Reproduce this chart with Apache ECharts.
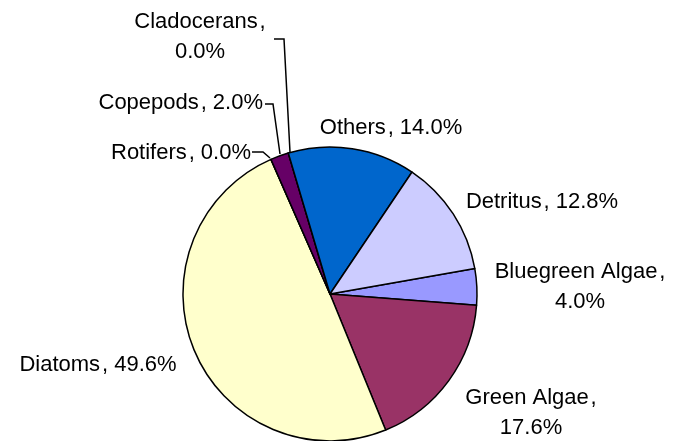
<!DOCTYPE html>
<html>
<head>
<meta charset="utf-8">
<script src="https://cdn.jsdelivr.net/npm/echarts@6/dist/echarts.min.js"></script>
<style>
  html, body { margin: 0; padding: 0; background: #fff; }
  #chart { width: 675px; height: 441px; }
</style>
</head>
<body>
<div id="chart"></div>
<script>
// slice order follows the spreadsheet series order
const categories = ["Bluegreen Algae", "Green Algae", "Diatoms", "Rotifers", "Copepods", "Cladocerans", "Others", "Detritus"];
const shares = [4.0, 17.6, 49.6, 0.0, 2.0, 0.0, 14.0, 12.8];
const colors = ["#9999ff", "#993366", "#ffffcc", "#ccffff", "#660066", "#ff8080", "#0066cc", "#ccccff"];

// names whose label breaks after the comma
const wrapped = ["Bluegreen Algae", "Green Algae", "Cladocerans"];

// label placement (text anchor, alignment, leader line)
const labelPlace = {
  "Bluegreen Algae": { x: 580, y: 287, align: "center" },
  "Green Algae": { x: 531, y: 413, align: "center" },
  "Diatoms": { x: 98, y: 365, align: "center" },
  "Rotifers": { x: 251, y: 153, align: "right", line: [[270, 158], [263, 152], [252, 152]] },
  "Copepods": { x: 263, y: 103, align: "right", line: [[280, 154], [273, 104], [265, 104]] },
  "Cladocerans": { x: 200, y: 37, align: "center", line: [[290, 152], [284, 39], [274, 39]] },
  "Others": { x: 391, y: 128, align: "center" },
  "Detritus": { x: 542, y: 202, align: "center" }
};

const chart = echarts.init(document.getElementById("chart"));

chart.setOption({
  animation: false,
  series: [{
    type: "pie",
    center: [330, 294],
    radius: 147,
    startAngle: 10,
    clockwise: true,
    avoidLabelOverlap: false,
    itemStyle: { borderColor: "#000", borderWidth: 1.5 },
    label: {
      show: true,
      position: "outside",
      color: "#000",
      fontFamily: "Liberation Sans, Arial, sans-serif",
      fontSize: 22,
      lineHeight: 30,
      formatter: function (p) {
        const sep = wrapped.indexOf(p.name) >= 0 ? "\u200a,\n" : "\u200a, ";
        return p.name + sep + p.value.toFixed(1) + "%";
      }
    },
    labelLine: { show: false, lineStyle: { color: "#000", width: 1.5 } },
    labelLayout: function (params) {
      const name = categories[params.dataIndex];
      const pl = labelPlace[name];
      const out = { x: pl.x, y: pl.y, align: pl.align, verticalAlign: "middle" };
      if (pl.line) out.labelLinePoints = pl.line;
      return out;
    },
    emphasis: { disabled: true },
    data: categories.map(function (c, i) {
      const item = { name: c, value: shares[i], itemStyle: { color: colors[i] } };
      if (labelPlace[c].line) item.labelLine = { show: true };
      return item;
    })
  }]
});
</script>
</body>
</html>
